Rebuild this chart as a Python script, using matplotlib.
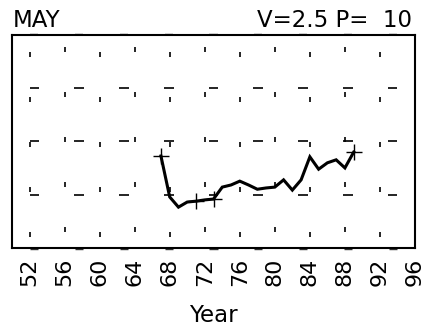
import numpy as np
import matplotlib
matplotlib.use("Agg")
import matplotlib.pyplot as plt

# yearly series (May)
years = [67, 68, 69, 70, 71, 72, 73, 74, 75, 76, 77, 78,
         79, 80, 81, 82, 83, 84, 85, 86, 87, 88, 89]
values = [2.16, 1.20, 0.96, 1.08, 1.10, 1.13, 1.15, 1.43, 1.48, 1.57, 1.48, 1.38,
          1.41, 1.43, 1.60, 1.36, 1.60, 2.14, 1.85, 2.00, 2.07, 1.88, 2.25]
cross_years = [67, 71, 73, 89]
tick_years = list(range(52, 97, 4))
tick_labels = [str(y) for y in tick_years]

fig = plt.figure(figsize=(4.27, 3.26), dpi=100)
ax = fig.add_axes([0.0281, 0.239, 0.9438, 0.654])
ax.set_xlim(50, 96)
ax.set_ylim(0, 5)

# background mark pattern (vertical ticks on year grid)
xt = ax.get_xaxis_transform()
for k, yr in enumerate(tick_years):
    shift = 0.0 if k % 2 == 0 else 0.027
    for i in range(5):
        yc = 0.062 + 0.211 * i + shift
        ax.vlines(yr, yc - 0.012, yc + 0.012, transform=xt, color='k',
                  lw=1.2, clip_on=False)

# horizontal dashes on a 9 x 3 grid
for k in range(9):
    xc = (k + 0.5) / 9
    for yc in [0.25, 0.5, 0.75]:
        ax.hlines(yc, xc - 0.012, xc + 0.012, transform=ax.transAxes,
                  color='k', lw=1.2)
    ax.hlines(1.003, xc - 0.01, xc + 0.01, transform=ax.transAxes,
              color='#d0d0d0', lw=1.2, clip_on=False)
    ax.hlines(-0.005, xc - 0.01, xc + 0.01, transform=ax.transAxes,
              color='#333333', lw=1.0, clip_on=False)

ax.plot(years, values, color='k', lw=2.2, solid_joinstyle='miter', zorder=3)
cross_vals = [values[years.index(y)] for y in cross_years]
ax.plot(cross_years, cross_vals, ls='none', marker='+', color='k',
        markersize=11, mew=1.0, zorder=4)

for s in ax.spines.values():
    s.set_linewidth(1.5)
    s.set_color('k')

ax.set_xticks(tick_years)
ax.set_xticklabels(tick_labels)
ax.set_yticks([])
ax.tick_params(axis='x', length=0, pad=7, labelsize=16, labelrotation=90)

fig.text(0.030, 0.917, "MAY", fontsize=16.5, ha='left', va='baseline')
fig.text(0.965, 0.917, "V=2.5 P=  10", fontsize=16.5, ha='right', va='baseline')
fig.text(0.5, 0.012, "Year", fontsize=16.5, ha='center', va='baseline')

fig.savefig("out.png", dpi=100)
